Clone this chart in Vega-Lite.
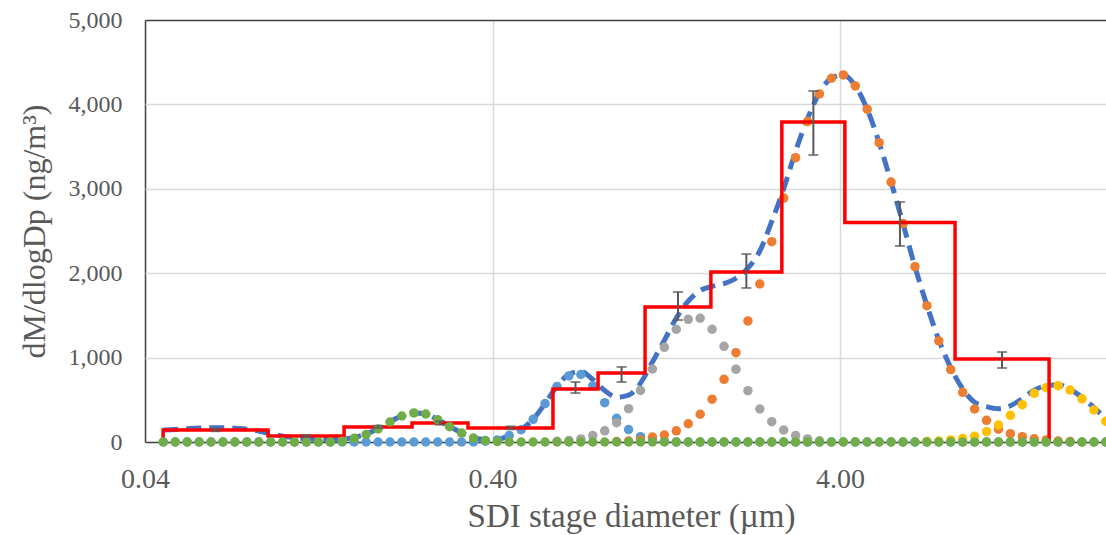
{
"$schema": "https://vega.github.io/schema/vega-lite/v6.json",
"width": 961, "height": 422,
"autosize": "none",
"padding": {"left": 145, "top": 20, "right": 0, "bottom": 93},
"background": "white",
"config": {"view": {"stroke": null}, "font": "Liberation Serif"},
"datasets": {
"pts": [
{"d":0.04516,"lb":0,"gr":0,"or":0,"ye":0,"gn":0,"fit":142},
{"d":0.04887,"lb":0,"gr":0,"or":0,"ye":0,"gn":0,"fit":148},
{"d":0.05289,"lb":0,"gr":0,"or":0,"ye":0,"gn":0,"fit":158},
{"d":0.05724,"lb":0,"gr":0,"or":0,"ye":0,"gn":0,"fit":166},
{"d":0.06195,"lb":0,"gr":0,"or":0,"ye":0,"gn":0,"fit":170},
{"d":0.06705,"lb":0,"gr":0,"or":0,"ye":0,"gn":0,"fit":168},
{"d":0.07256,"lb":0,"gr":0,"or":0,"ye":0,"gn":0,"fit":162},
{"d":0.07853,"lb":0,"gr":0,"or":0,"ye":0,"gn":0,"fit":152},
{"d":0.08499,"lb":0,"gr":0,"or":0,"ye":0,"gn":0,"fit":130},
{"d":0.09198,"lb":0,"gr":0,"or":0,"ye":0,"gn":0,"fit":100},
{"d":0.09955,"lb":0,"gr":0,"or":0,"ye":0,"gn":0,"fit":70},
{"d":0.1077,"lb":0,"gr":0,"or":0,"ye":0,"gn":0,"fit":50},
{"d":0.1166,"lb":0,"gr":0,"or":0,"ye":0,"gn":0,"fit":38},
{"d":0.1262,"lb":0,"gr":0,"or":0,"ye":0,"gn":0,"fit":32},
{"d":0.1366,"lb":0,"gr":0,"or":0,"ye":0,"gn":0,"fit":30},
{"d":0.1478,"lb":0,"gr":0,"or":0,"ye":0,"gn":10,"fit":35},
{"d":0.1600,"lb":0,"gr":0,"or":0,"ye":0,"gn":44,"fit":55},
{"d":0.1731,"lb":0,"gr":0,"or":0,"ye":0,"gn":89,"fit":95},
{"d":0.1874,"lb":0,"gr":0,"or":0,"ye":0,"gn":154,"fit":157},
{"d":0.2028,"lb":0,"gr":0,"or":0,"ye":0,"gn":237,"fit":240},
{"d":0.2194,"lb":0,"gr":0,"or":0,"ye":0,"gn":308,"fit":310},
{"d":0.2375,"lb":0,"gr":0,"or":0,"ye":0,"gn":344,"fit":345},
{"d":0.2570,"lb":0,"gr":0,"or":0,"ye":0,"gn":332,"fit":333},
{"d":0.2781,"lb":0,"gr":0,"or":0,"ye":0,"gn":264,"fit":265},
{"d":0.3010,"lb":0,"gr":0,"or":0,"ye":0,"gn":181,"fit":183},
{"d":0.3258,"lb":0,"gr":0,"or":0,"ye":0,"gn":107,"fit":110},
{"d":0.3526,"lb":0,"gr":0,"or":0,"ye":0,"gn":47,"fit":52},
{"d":0.3816,"lb":10,"gr":0,"or":0,"ye":0,"gn":18,"fit":30},
{"d":0.4130,"lb":24,"gr":0,"or":0,"ye":0,"gn":5,"fit":30},
{"d":0.4469,"lb":77,"gr":0,"or":0,"ye":0,"gn":0,"fit":80},
{"d":0.4837,"lb":146,"gr":0,"or":0,"ye":0,"gn":0,"fit":148},
{"d":0.5235,"lb":269,"gr":0,"or":0,"ye":0,"gn":0,"fit":270},
{"d":0.5666,"lb":455,"gr":0,"or":0,"ye":0,"gn":0,"fit":457},
{"d":0.6132,"lb":659,"gr":8,"or":0,"ye":0,"gn":0,"fit":662},
{"d":0.6636,"lb":783,"gr":18,"or":0,"ye":0,"gn":0,"fit":800},
{"d":0.7182,"lb":800,"gr":36,"or":0,"ye":0,"gn":0,"fit":836},
{"d":0.7773,"lb":664,"gr":77,"or":0,"ye":0,"gn":0,"fit":741},
{"d":0.8412,"lb":466,"gr":133,"or":0,"ye":0,"gn":0,"fit":610},
{"d":0.9104,"lb":281,"gr":229,"or":6,"ye":0,"gn":0,"fit":530},
{"d":0.9853,"lb":147,"gr":395,"or":12,"ye":0,"gn":0,"fit":554},
{"d":1.0664,"lb":63,"gr":611,"or":24,"ye":0,"gn":0,"fit":698},
{"d":1.1542,"lb":24,"gr":865,"or":59,"ye":0,"gn":0,"fit":948},
{"d":1.2491,"lb":8,"gr":1122,"or":83,"ye":0,"gn":0,"fit":1205},
{"d":1.3519,"lb":0,"gr":1336,"or":133,"ye":0,"gn":0,"fit":1469},
{"d":1.4631,"lb":0,"gr":1454,"or":216,"ye":0,"gn":0,"fit":1670},
{"d":1.5834,"lb":0,"gr":1466,"or":329,"ye":0,"gn":0,"fit":1795},
{"d":1.7137,"lb":0,"gr":1336,"or":507,"ye":0,"gn":0,"fit":1843},
{"d":1.8547,"lb":0,"gr":1134,"or":743,"ye":0,"gn":0,"fit":1877},
{"d":2.0073,"lb":0,"gr":863,"or":1058,"ye":0,"gn":0,"fit":1940},
{"d":2.1724,"lb":0,"gr":608,"or":1434,"ye":0,"gn":0,"fit":2060},
{"d":2.3511,"lb":0,"gr":391,"or":1872,"ye":0,"gn":0,"fit":2263},
{"d":2.5442,"lb":0,"gr":241,"or":2374,"ye":0,"gn":0,"fit":2615},
{"d":2.7535,"lb":0,"gr":142,"or":2890,"ye":0,"gn":0,"fit":3000},
{"d":2.9800,"lb":0,"gr":77,"or":3369,"ye":0,"gn":0,"fit":3446},
{"d":3.2251,"lb":0,"gr":36,"or":3796,"ye":0,"gn":0,"fit":3832},
{"d":3.4904,"lb":0,"gr":15,"or":4124,"ye":0,"gn":0,"fit":4139},
{"d":3.7776,"lb":0,"gr":0,"or":4310,"ye":0,"gn":0,"fit":4310},
{"d":4.0883,"lb":0,"gr":0,"or":4349,"ye":0,"gn":0,"fit":4349},
{"d":4.4246,"lb":0,"gr":0,"or":4219,"ye":0,"gn":0,"fit":4219},
{"d":4.7886,"lb":0,"gr":0,"or":3943,"ye":0,"gn":0,"fit":3943},
{"d":5.1825,"lb":0,"gr":0,"or":3547,"ye":0,"gn":0,"fit":3547},
{"d":5.6093,"lb":0,"gr":0,"or":3080,"ye":0,"gn":0,"fit":3080},
{"d":6.0707,"lb":0,"gr":0,"or":2588,"ye":0,"gn":0,"fit":2588},
{"d":6.5701,"lb":0,"gr":0,"or":2077,"ye":0,"gn":0,"fit":2077},
{"d":7.1106,"lb":0,"gr":0,"or":1615,"ye":6,"gn":0,"fit":1621},
{"d":7.6955,"lb":0,"gr":0,"or":1197,"ye":12,"gn":0,"fit":1209},
{"d":8.3285,"lb":0,"gr":0,"or":858,"ye":24,"gn":0,"fit":882},
{"d":9.0136,"lb":0,"gr":0,"or":589,"ye":41,"gn":0,"fit":630},
{"d":9.7551,"lb":0,"gr":0,"or":391,"ye":68,"gn":0,"fit":470},
{"d":10.558,"lb":0,"gr":0,"or":257,"ye":122,"gn":0,"fit":420},
{"d":11.426,"lb":0,"gr":0,"or":152,"ye":201,"gn":0,"fit":395},
{"d":12.366,"lb":0,"gr":0,"or":98,"ye":316,"gn":0,"fit":430},
{"d":13.383,"lb":0,"gr":0,"or":63,"ye":442,"gn":0,"fit":515},
{"d":14.484,"lb":0,"gr":0,"or":38,"ye":577,"gn":0,"fit":615},
{"d":15.676,"lb":0,"gr":0,"or":24,"ye":643,"gn":0,"fit":667},
{"d":16.965,"lb":0,"gr":0,"or":12,"ye":667,"gn":0,"fit":679},
{"d":18.361,"lb":0,"gr":0,"or":6,"ye":616,"gn":0,"fit":625},
{"d":19.871,"lb":0,"gr":0,"or":0,"ye":512,"gn":0,"fit":530},
{"d":21.506,"lb":0,"gr":0,"or":0,"ye":379,"gn":0,"fit":410},
{"d":23.275,"lb":0,"gr":0,"or":0,"ye":246,"gn":0,"fit":270}
],
"red": [
{"i":0,"d":0.0451,"v":0},
{"i":1,"d":0.0451,"v":142},
{"i":2,"d":0.0904,"v":71},
{"i":3,"d":0.1496,"v":178},
{"i":4,"d":0.2347,"v":225},
{"i":5,"d":0.340,"v":166},
{"i":6,"d":0.597,"v":628},
{"i":7,"d":0.805,"v":818},
{"i":8,"d":1.099,"v":1600},
{"i":9,"d":1.70,"v":2014},
{"i":10,"d":2.72,"v":3791},
{"i":11,"d":4.13,"v":2600},
{"i":12,"d":8.57,"v":983},
{"i":13,"d":15.98,"v":0}
],
"err": [
{"d":0.0639,"lo":128,"hi":158},
{"d":0.1163,"lo":60,"hi":82},
{"d":0.1874,"lo":165,"hi":192},
{"d":0.2825,"lo":205,"hi":245},
{"d":0.4505,"lo":150,"hi":185},
{"d":0.6932,"lo":580,"hi":711},
{"d":0.9406,"lo":711,"hi":889},
{"d":1.3669,"lo":1445,"hi":1777},
{"d":2.150,"lo":1825,"hi":2227},
{"d":3.352,"lo":3400,"hi":4159},
{"d":5.949,"lo":2322,"hi":2844},
{"d":11.70,"lo":877,"hi":1066}
]
},
"encoding": {
"x": {"field": "d", "type": "quantitative", "title": "SDI stage diameter (µm)",
"scale": {"type": "log", "domain": [0.04, 23.3], "nice": false},
"axis": {"values": [0.04, 0.4, 4], "format": ".2f",
"grid": true, "gridColor": {"condition": {"test": "datum.value < 0.05", "value": "#3f3f3f"}, "value": "#d9d9d9"}, "gridWidth": 1.5,
"domain": false, "ticks": false, "tickSize": 0, "labelFlush": false,
"labelFont": "Liberation Serif", "labelFontSize": 28, "labelColor": "#595959", "labelPadding": 45, "labelBaseline": "alphabetic",
"titleFont": "Liberation Serif", "titleFontSize": 33, "titleFontWeight": "normal", "titleColor": "#595959",
"titleX": 486, "titleY": 84, "titleBaseline": "alphabetic"}}
},
"layer": [
{
"data": {"name": "pts"},
"mark": {"type": "line", "color": "#4472C4", "strokeWidth": 5, "strokeDash": [15, 8], "interpolate": "monotone"},
"encoding": {
"y": {"field": "fit", "type": "quantitative", "title": "dM/dlogDp (ng/m³)",
"scale": {"domain": [0, 5000], "nice": false},
"axis": {"values": [0, 1000, 2000, 3000, 4000, 5000], "format": ",.0f",
"grid": true, "gridColor": {"condition": {"test": "datum.value === 0 || datum.value === 5000", "value": "#3f3f3f"}, "value": "#d9d9d9"}, "gridWidth": 1.5,
"domain": false, "ticks": false, "tickSize": 0,
"labelFont": "Liberation Serif", "labelFontSize": 24, "labelColor": "#595959", "labelPadding": 23,
"titleFont": "Liberation Serif", "titleFontSize": 32, "titleFontWeight": "normal", "titleColor": "#595959",
"titleX": -111, "titleY": 211, "titleBaseline": "middle"}}
}
},
{
"data": {"name": "pts"},
"mark": {"type": "circle", "size": 90, "color": "#5B9BD5", "opacity": 1},
"encoding": {"y": {"field": "lb", "type": "quantitative", "title": "dM/dlogDp (ng/m³)", "axis": {"format": ",.0f"}}}
},
{
"data": {"name": "pts"},
"transform": [{"filter": "datum.gr > 0"}],
"mark": {"type": "circle", "size": 90, "color": "#A5A5A5", "opacity": 1},
"encoding": {"y": {"field": "gr", "type": "quantitative", "title": "dM/dlogDp (ng/m³)", "axis": {"format": ",.0f"}}}
},
{
"data": {"name": "pts"},
"transform": [{"filter": "datum.or > 0"}],
"mark": {"type": "circle", "size": 90, "color": "#ED7D31", "opacity": 1},
"encoding": {"y": {"field": "or", "type": "quantitative", "title": "dM/dlogDp (ng/m³)", "axis": {"format": ",.0f"}}}
},
{
"data": {"name": "pts"},
"transform": [{"filter": "datum.ye > 0"}],
"mark": {"type": "circle", "size": 90, "color": "#FFC000", "opacity": 1},
"encoding": {"y": {"field": "ye", "type": "quantitative", "title": "dM/dlogDp (ng/m³)", "axis": {"format": ",.0f"}}}
},
{
"data": {"name": "red"},
"mark": {"type": "line", "color": "#FF0000", "strokeWidth": 3.5, "interpolate": "step-after"},
"encoding": {"y": {"field": "v", "type": "quantitative", "title": "dM/dlogDp (ng/m³)", "axis": {"format": ",.0f"}}, "order": {"field": "i"}}
},
{
"data": {"name": "pts"},
"mark": {"type": "circle", "size": 90, "color": "#70AD47", "opacity": 1},
"encoding": {"y": {"field": "gn", "type": "quantitative", "title": "dM/dlogDp (ng/m³)", "axis": {"format": ",.0f"}}}
},
{
"data": {"name": "err"},
"mark": {"type": "errorbar", "color": "#595959", "thickness": 2, "ticks": {"size": 10, "color": "#595959"}},
"encoding": {"y": {"field": "lo", "type": "quantitative", "title": "dM/dlogDp (ng/m³)", "axis": {"format": ",.0f"}}, "y2": {"field": "hi"}}
}
]
}
